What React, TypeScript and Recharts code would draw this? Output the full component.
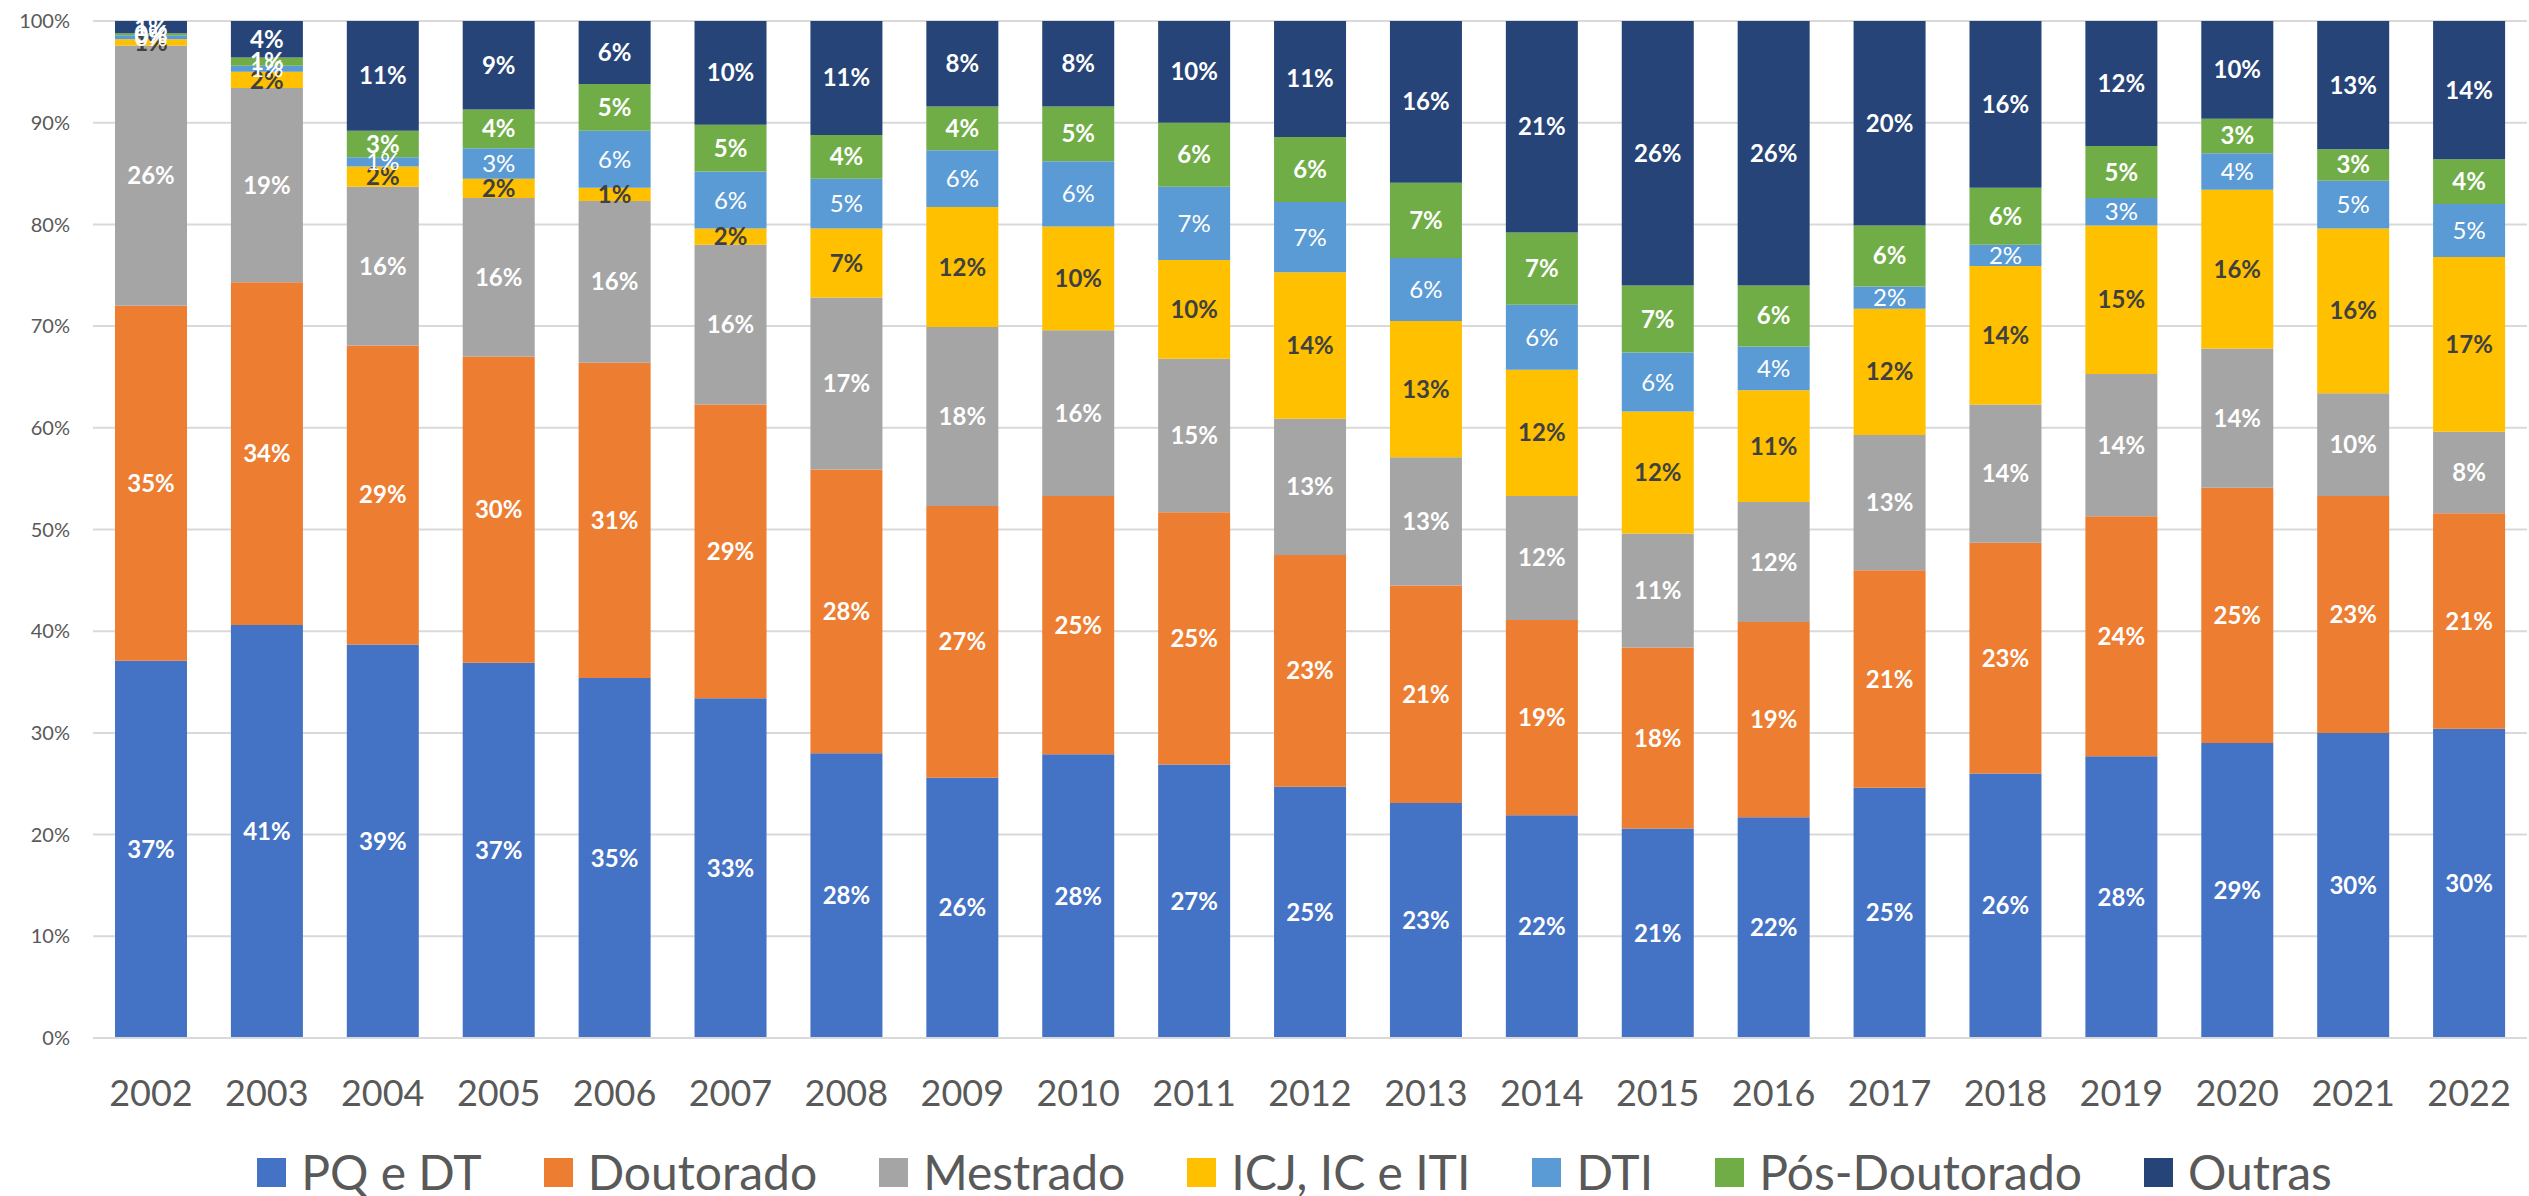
import { Bar, BarChart, CartesianGrid, LabelList, XAxis, YAxis } from 'recharts'

const years = ['2002', '2003', '2004', '2005', '2006', '2007', '2008', '2009', '2010', '2011', '2012', '2013', '2014', '2015', '2016', '2017', '2018', '2019', '2020', '2021', '2022']

// shares in % per year
const pqDt = [37.1, 40.6, 38.7, 36.9, 35.4, 33.4, 28.0, 25.6, 27.9, 26.9, 24.7, 23.1, 21.9, 20.6, 21.7, 24.6, 26.0, 27.7, 29.0, 30.0, 30.4]
const doutorado = [34.9, 33.7, 29.4, 30.1, 31.0, 28.9, 27.9, 26.7, 25.4, 24.8, 22.8, 21.4, 19.2, 17.8, 19.2, 21.4, 22.7, 23.6, 25.1, 23.3, 21.2]
const mestrado = [25.6, 19.1, 15.6, 15.6, 15.9, 15.7, 16.9, 17.6, 16.3, 15.1, 13.4, 12.6, 12.2, 11.2, 11.8, 13.3, 13.6, 14.0, 13.7, 10.1, 8.0]
const icj = [0.6, 1.6, 2.0, 1.9, 1.3, 1.6, 6.8, 11.8, 10.2, 9.7, 14.4, 13.4, 12.4, 12.0, 11.0, 12.4, 13.6, 14.6, 15.6, 16.2, 17.2]
const dti = [0.4, 0.6, 0.9, 3.0, 5.6, 5.6, 4.9, 5.6, 6.4, 7.2, 6.9, 6.2, 6.4, 5.8, 4.3, 2.2, 2.1, 2.7, 3.6, 4.7, 5.2]
const posDoc = [0.2, 0.8, 2.6, 3.8, 4.6, 4.6, 4.3, 4.3, 5.4, 6.3, 6.4, 7.4, 7.1, 6.6, 6.0, 6.0, 5.6, 5.1, 3.4, 3.1, 4.4]
const outras = [1.2, 3.6, 10.8, 8.7, 6.2, 10.2, 11.2, 8.4, 8.4, 10.0, 11.4, 15.9, 20.8, 26.0, 26.0, 20.1, 16.4, 12.3, 9.6, 12.6, 13.6]

const yTicks = [0, 10, 20, 30, 40, 50, 60, 70, 80, 90, 100]

const series = [
  { key: 'pqDt', name: 'PQ e DT', color: '#4472C4', text: '#FFFFFF', weight: 700 },
  { key: 'doutorado', name: 'Doutorado', color: '#ED7D31', text: '#FFFFFF', weight: 700 },
  { key: 'mestrado', name: 'Mestrado', color: '#A5A5A5', text: '#FFFFFF', weight: 700 },
  { key: 'icj', name: 'ICJ, IC e ITI', color: '#FFC000', text: '#404040', weight: 700 },
  { key: 'dti', name: 'DTI', color: '#5B9BD5', text: '#FFFFFF', weight: 400 },
  { key: 'posDoc', name: 'Pós-Doutorado', color: '#70AD47', text: '#FFFFFF', weight: 700 },
  { key: 'outras', name: 'Outras', color: '#264478', text: '#FFFFFF', weight: 700 },
]

const data = years.map((year, i) => ({
  year,
  pqDt: pqDt[i],
  doutorado: doutorado[i],
  mestrado: mestrado[i],
  icj: icj[i],
  dti: dti[i],
  posDoc: posDoc[i],
  outras: outras[i],
}))

const font = 'Lato, "Open Sans", sans-serif'
const axisGrey = '#595959'

function Legend() {
  return (
    <div
      style={{
        position: 'absolute',
        left: 0,
        top: 1144,
        width: 2529,
        boxSizing: 'border-box',
        paddingLeft: 60,
        display: 'flex',
        justifyContent: 'center',
        alignItems: 'center',
        fontFamily: font,
        fontSize: 48,
        color: axisGrey,
        lineHeight: '56px',
      }}
    >
      {series.map((s, i) => (
        <div key={s.key} style={{ display: 'flex', alignItems: 'center', marginRight: i === series.length - 1 ? 0 : 62 }}>
          <span style={{ width: 29, height: 29, background: s.color, marginRight: 15, display: 'inline-block' }} />
          <span>{s.name}</span>
        </div>
      ))}
    </div>
  )
}

export default function App() {
  return (
    <div style={{ position: 'absolute', left: 0, top: 0, width: 2529, height: 1196, background: '#fff' }}>
      <BarChart
        width={2529}
        height={1196}
        data={data}
        margin={{ top: 21, right: 2, left: 0, bottom: 98 }}
        barSize={72}
      >
        <CartesianGrid vertical={false} stroke="#D9D9D9" strokeWidth={2} />
        <XAxis
          dataKey="year"
          height={60}
          tickLine={false}
          tickSize={0}
          tickMargin={42}
          axisLine={{ stroke: '#D9D9D9', strokeWidth: 2 }}
          tick={{ fill: axisGrey, fontSize: 36, fontFamily: font }}
          interval={0}
        />
        <YAxis
          width={93}
          domain={[0, 100]}
          ticks={yTicks}
          allowDataOverflow
          tickFormatter={(v) => `${v}%`}
          tickLine={false}
          axisLine={false}
          tickSize={0}
          tickMargin={23}
          tick={{ fill: axisGrey, fontSize: 20, fontFamily: font }}
        />
        {series.map((s) => (
          <Bar key={s.key} dataKey={s.key} name={s.name} stackId="a" fill={s.color} isAnimationActive={false}>
            <LabelList
              dataKey={s.key}
              position="center"
              formatter={(v: number) => `${Math.round(v)}%`}
              fill={s.text}
              fontSize={24}
              fontWeight={s.weight}
              fontFamily={font}
            />
          </Bar>
        ))}
      </BarChart>
      <Legend />
    </div>
  )
}
